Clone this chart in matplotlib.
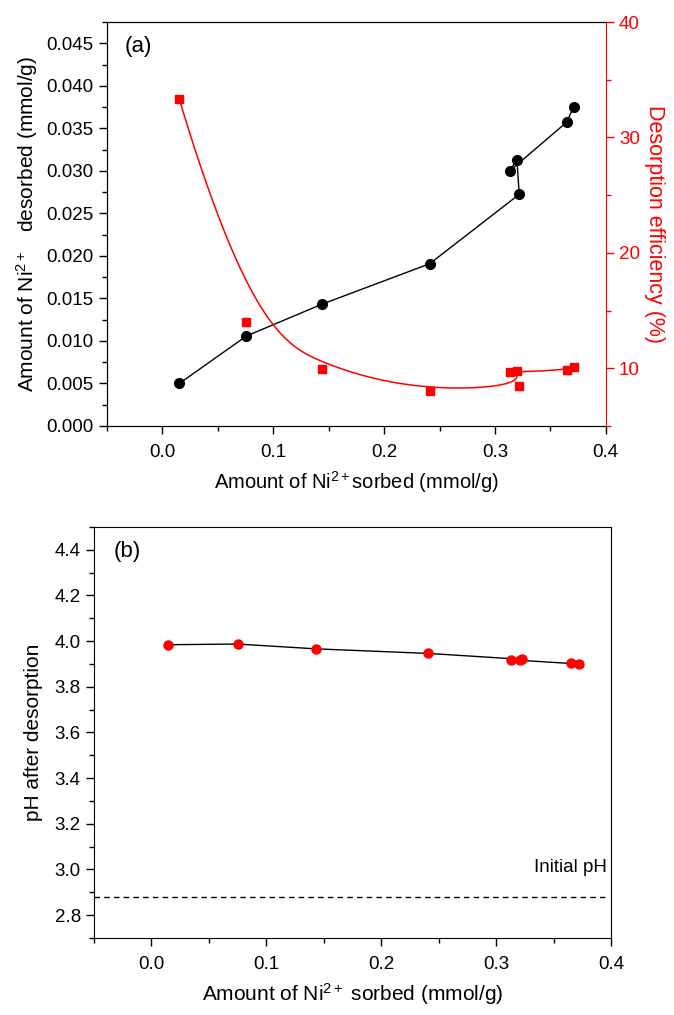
import numpy as np
import matplotlib
matplotlib.use('Agg')
import matplotlib.pyplot as plt
from matplotlib.ticker import MultipleLocator, FormatStrFormatter

plt.rcParams['font.family'] = ['Liberation Sans', 'DejaVu Sans']
plt.rcParams['mathtext.fontset'] = 'custom'
plt.rcParams['mathtext.rm'] = 'Liberation Sans'
plt.rcParams['mathtext.it'] = 'Liberation Sans:italic'

# data (measurement order, as connected in the original plot)
sorbed = [0.0152, 0.0758, 0.1437, 0.2411, 0.3219, 0.3198, 0.3132, 0.3646, 0.3709]
desorbed = [0.0050, 0.01058, 0.01431, 0.01908, 0.02724, 0.03131, 0.02998, 0.03571, 0.03747]
efficiency = [33.3, 14.0, 9.95, 8.0, 8.5, 9.75, 9.65, 9.85, 10.1]

sorbed_b = [0.0142, 0.0750, 0.1430, 0.2407, 0.3224, 0.3205, 0.3134, 0.3648, 0.3720]
ph_after = [3.984, 3.987, 3.966, 3.946, 3.920, 3.915, 3.918, 3.902, 3.898]
initial_ph = 2.88


def bspline(px, py, k=3, n=500):
    """clamped B-spline with the data points as control points (Origin-style B-Spline line)"""
    px = np.asarray(px, float)
    py = np.asarray(py, float)
    m = len(px)
    knots = np.concatenate([np.zeros(k), np.linspace(0, 1, m - k + 1), np.ones(k)])
    t = np.linspace(0, 1, n)
    t[-1] -= 1e-9

    def basis(i, p, t):
        if p == 0:
            return ((knots[i] <= t) & (t < knots[i + 1])).astype(float)
        out = np.zeros_like(t)
        den1 = knots[i + p] - knots[i]
        den2 = knots[i + p + 1] - knots[i + 1]
        if den1 > 0:
            out += (t - knots[i]) / den1 * basis(i, p - 1, t)
        if den2 > 0:
            out += (knots[i + p + 1] - t) / den2 * basis(i + 1, p - 1, t)
        return out

    B = np.array([basis(i, k, t) for i in range(m)])
    return B.T @ px, B.T @ py


TICK = 13.5
LABEL = 15

fig = plt.figure(figsize=(6.74, 10.15), dpi=100)

# ---------------- (a) ----------------
ax1 = fig.add_axes([0.1588, 0.5803, 0.740, 0.398])
ax1.plot(sorbed, desorbed, '-', color='black', lw=1.0)
ax1.plot(sorbed, desorbed, 'o', color='black', ms=7, zorder=3)
ax1.set_xlim(-0.05, 0.4)
ax1.set_ylim(0, 0.0475)
ax1.xaxis.set_major_locator(MultipleLocator(0.1))
ax1.xaxis.set_minor_locator(MultipleLocator(0.05))
ax1.yaxis.set_major_locator(MultipleLocator(0.005))
ax1.yaxis.set_minor_locator(MultipleLocator(0.0025))
ax1.yaxis.set_major_formatter(FormatStrFormatter('%.3f'))
ax1.tick_params(which='major', direction='out', length=6, width=1, labelsize=TICK)
ax1.tick_params(which='minor', direction='out', length=3.5, width=1)
ax1.tick_params(axis='x', pad=7)
ax1.set_xlabel('Amount of Ni$^{\\mathrm{2+}}$sorbed (mmol/g)', fontsize=LABEL - 0.5, labelpad=6)
ax1.set_ylabel('Amount of Ni$^{\\mathrm{2+}}$   desorbed (mmol/g)', fontsize=LABEL, labelpad=5)
ax1.text(0.035, 0.965, '(a)', transform=ax1.transAxes, fontsize=16, va='top', ha='left')
ax1.spines['right'].set_visible(False)

ax2 = ax1.twinx()
ax2.set_ylim(5, 40)
bx, by = bspline(sorbed, efficiency, k=3)
ax2.plot(bx, by, '-', color='red', lw=1.1)
ax2.plot(sorbed, efficiency, 's', color='red', ms=6, zorder=3)
ax2.yaxis.set_major_locator(MultipleLocator(10))
ax2.yaxis.set_minor_locator(MultipleLocator(5))
ax2.tick_params(which='major', direction='out', length=6, width=1, labelsize=TICK,
                colors='red')
ax2.tick_params(which='minor', direction='out', length=3.5, width=1, colors='red')
ax2.spines['right'].set_color('red')
ax2.set_ylabel('Desorption efficiency (%)', color='red', fontsize=LABEL + 0.5, rotation=270,
               labelpad=18)

# ---------------- (b) ----------------
ax3 = fig.add_axes([0.1395, 0.0759, 0.767, 0.405])
ax3.plot(sorbed_b, ph_after, '-', color='black', lw=1.0)
ax3.plot(sorbed_b, ph_after, 'o', color='red', ms=6.5, zorder=3)
ax3.hlines(initial_ph, -0.05, 0.395, colors='black', linestyles=(0, (4, 3)), lw=1.0)
ax3.text(0.396, 3.01, 'Initial pH', ha='right', va='center', fontsize=TICK)
ax3.set_xlim(-0.05, 0.4)
ax3.set_ylim(2.7, 4.5)
ax3.xaxis.set_major_locator(MultipleLocator(0.1))
ax3.xaxis.set_minor_locator(MultipleLocator(0.05))
ax3.set_yticks(np.arange(2.8, 4.41, 0.2))
ax3.yaxis.set_minor_locator(MultipleLocator(0.1))
ax3.tick_params(which='major', direction='out', length=6, width=1, labelsize=TICK)
ax3.tick_params(which='minor', direction='out', length=3.5, width=1)
ax3.tick_params(axis='x', pad=7)
ax3.set_xlabel('Amount of Ni$^{\\mathrm{2+}}$ sorbed (mmol/g)', fontsize=LABEL, labelpad=6)
ax3.set_ylabel('pH after desorption', fontsize=LABEL, labelpad=8)
ax3.text(0.037, 0.965, '(b)', transform=ax3.transAxes, fontsize=16, va='top', ha='left')

fig.savefig('out.png', dpi=100)
